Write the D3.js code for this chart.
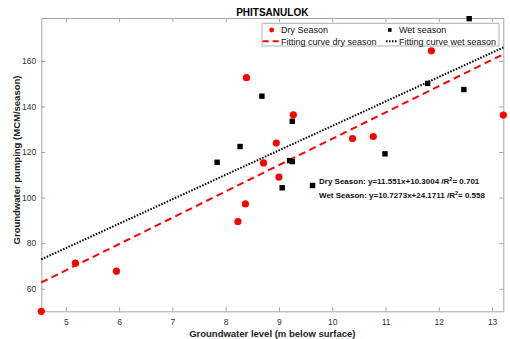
<!DOCTYPE html>
<html><head><meta charset="utf-8">
<script src="https://cdn.jsdelivr.net/npm/d3@7"></script>
<style>body{margin:0;background:#fff}svg{display:block}text{font-family:"Liberation Sans",Arial,sans-serif}</style>
</head><body><svg id="c" width="510" height="339"></svg>
<script>
const dryX = [4.54, 5.18, 5.95, 8.23, 8.37, 8.39, 8.71, 8.95, 9.00, 9.27, 10.38, 10.77, 11.86, 13.21];
const dryY = [50.1, 71.2, 67.7, 89.5, 97.2, 152.6, 115.2, 123.9, 109.0, 136.3, 125.9, 126.8, 164.4, 136.2];
const wetX = [7.84, 8.27, 8.68, 9.25, 9.20, 9.25, 10.99, 11.79, 12.47, 12.57, 9.06, 9.63];
const wetY = [115.5, 122.4, 144.5, 133.5, 116.2, 115.8, 119.2, 150.1, 147.4, 178.5, 104.3, 105.3];
const fitDry = [11.551, 10.3004];
const fitWet = [10.7273, 24.1711];
const xTicks = [5, 6, 7, 8, 9, 10, 11, 12, 13];
const yTicks = [60, 80, 100, 120, 140, 160];
const xDomain = [4.54, 13.21];
const yDomain = [50.1, 178.8];
const title = "PHITSANULOK";
const xLabel = "Groundwater level (m below surface)";
const yLabel = "Groundwater pumping (MCM/season)";
const legendLabels = ["Dry Season", "Wet season", "Fitting curve dry season", "Fitting curve wet season"];
const annot = ["Dry Season: y=11.551x+10.3004 /R", "2", "= 0.701", "Wet Season: y=10.7273x+24.1711 /R", "2", "= 0.558"];

const svg = d3.select("#c");
const L = 41.3, R = 503.3, T = 18, B = 311.3;
const x = d3.scaleLinear(xDomain, [L, R]);
const y = d3.scaleLinear(yDomain, [B, T]);
const axisCol = "#a6a6a6";

function styleAxis(g) {
  g.selectAll("path").attr("stroke", axisCol).attr("stroke-width", 1);
  g.selectAll("line").attr("stroke", axisCol).attr("stroke-width", 1);
  g.selectAll("text").attr("fill", "#333").style("font-size", "8.5px");
}
svg.append("g").attr("transform", `translate(0,${B})`)
  .call(d3.axisBottom(x).tickValues(xTicks).tickSize(-4).tickSizeOuter(0).tickPadding(8).tickFormat(d3.format("d")))
  .call(styleAxis);
svg.append("g").attr("transform", `translate(0,${T})`)
  .call(d3.axisTop(x).tickValues(xTicks).tickSize(-4).tickSizeOuter(0).tickFormat(""))
  .call(styleAxis);
svg.append("g").attr("transform", `translate(${L},0)`)
  .call(d3.axisLeft(y).tickValues(yTicks).tickSize(-4).tickSizeOuter(0).tickPadding(5).tickFormat(d3.format("d")))
  .call(styleAxis);
svg.append("g").attr("transform", `translate(${R},0)`)
  .call(d3.axisRight(y).tickValues(yTicks).tickSize(-4).tickSizeOuter(0).tickFormat(""))
  .call(styleAxis);

// fit lines
const line = d3.line().x(d => x(d[0])).y(d => y(d[1]));
const ends = xDomain;
svg.append("path").datum(ends.map(v => [v, fitWet[0] * v + fitWet[1]]))
  .attr("d", line).attr("fill", "none").attr("stroke", "#000").attr("stroke-width", 2).attr("stroke-dasharray", "1.5,1.5");
svg.append("path").datum(ends.map(v => [v, fitDry[0] * v + fitDry[1]]))
  .attr("d", line).attr("fill", "none").attr("stroke", "#ff0000").attr("stroke-width", 2).attr("stroke-dasharray", "7,4.5");

// points
svg.append("g").selectAll("rect").data(wetX.map((v, i) => [v, wetY[i]])).join("rect")
  .attr("x", d => x(d[0]) - 2.7).attr("y", d => y(d[1]) - 2.7).attr("width", 5.4).attr("height", 5.4).attr("fill", "#000");
svg.append("g").selectAll("circle").data(dryX.map((v, i) => [v, dryY[i]])).join("circle")
  .attr("cx", d => x(d[0])).attr("cy", d => y(d[1])).attr("r", 3.6).attr("fill", "#ff0000");

// title & labels
svg.append("text").attr("x", (L + R) / 2).attr("y", 16).attr("text-anchor", "middle")
  .style("font-size", "10px").style("font-weight", "bold").text(title);
svg.append("text").attr("x", (L + R) / 2).attr("y", 336.5).attr("text-anchor", "middle")
  .style("font-size", "9.5px").style("font-weight", "bold").attr("fill", "#222").text(xLabel);
svg.append("text").attr("transform", `translate(20,160) rotate(-90)`).attr("text-anchor", "middle")
  .style("font-size", "9.5px").style("font-weight", "bold").attr("fill", "#222").text(yLabel);

// legend
const lg = svg.append("g");
lg.append("rect").attr("x", 262).attr("y", 23.3).attr("width", 237).attr("height", 22.7)
  .attr("fill", "#fff").attr("stroke", "#b0b0b0").attr("stroke-width", 1);
lg.append("circle").attr("cx", 271.7).attr("cy", 30).attr("r", 2.4).attr("fill", "#ff0000");
lg.append("text").attr("x", 281).attr("y", 33.3).style("font-size", "9px").attr("fill", "#111").text(legendLabels[0]);
lg.append("rect").attr("x", 388).attr("y", 28.2).attr("width", 3.6).attr("height", 3.6).attr("fill", "#000");
lg.append("text").attr("x", 399).attr("y", 33.3).style("font-size", "9px").attr("fill", "#111").text(legendLabels[1]);
lg.append("line").attr("x1", 262.7).attr("x2", 279.5).attr("y1", 41.3).attr("y2", 41.3)
  .attr("stroke", "#ff0000").attr("stroke-width", 2).attr("stroke-dasharray", "6,4");
lg.append("text").attr("x", 281).attr("y", 44.7).style("font-size", "9px").attr("fill", "#111").text(legendLabels[2]);
lg.append("line").attr("x1", 386).attr("x2", 398).attr("y1", 41.3).attr("y2", 41.3)
  .attr("stroke", "#000").attr("stroke-width", 2).attr("stroke-dasharray", "1.5,1.5");
lg.append("text").attr("x", 399).attr("y", 44.7).style("font-size", "9px").attr("fill", "#111").text(legendLabels[3]);

// annotation
[[0, 184], [3, 198]].forEach(([k, yy]) => {
  const t = svg.append("text").attr("x", 319).attr("y", yy).style("font-size", "8px").style("font-weight", "bold").attr("fill", "#111");
  t.append("tspan").text(annot[k]);
  t.append("tspan").attr("dy", -3).style("font-size", "5.5px").text(annot[k + 1]);
  t.append("tspan").attr("dy", 3).text(annot[k + 2]);
});
</script></body></html>
